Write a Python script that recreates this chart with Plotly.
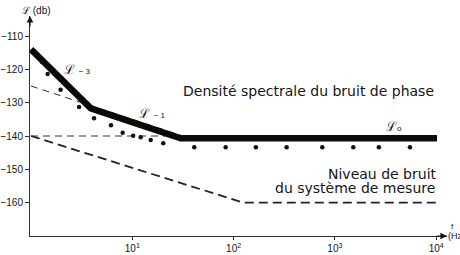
import plotly.graph_objects as go
import numpy as np

# ---- data ----
phase_f = [1.0, 3.9, 30.0, 10200.0]            # thick asymptotic phase-noise curve
phase_db = [-114.0, -131.7, -140.7, -140.7]

meas_f = [1.28, 1.46, 1.96, 2.98, 4.19, 6.16, 8.04, 10.2, 12.1, 15.2,
          20.2, 40.9, 83.5, 166, 334, 751, 1520, 2720, 5510]
meas_db = [-117.7, -121.4, -126.1, -131.3, -134.7, -136.8, -139.0, -139.9, -140.4, -141.2,
           -142.2, -143.4, -143.4, -143.4, -143.4, -143.4, -143.4, -143.4, -143.4]

asym1_f = [1.0, 31.6]          # L^-1 asymptote (thin dashed)
asym1_db = [-125.0, -140.0]
asym0_f = [1.0, 31.6]          # L^0 extension (thin dashed)
asym0_db = [-140.0, -140.0]

sys_f = [1.0, 125.0, 10300.0]  # measurement system noise floor
sys_db = [-140.0, -160.0, -160.0]

y_ticks = [-110, -120, -130, -140, -150, -160]
x_ticks = [10, 100, 1000, 10000]
x_ticktext = ["10<sup>1</sup>", "10<sup>2</sup>", "10<sup>3</sup>", "10<sup>4</sup>"]

FONT = "Liberation Sans, Arial, sans-serif"
TFONT = "DejaVu Sans, sans-serif"
INK = "#151515"
LSYM = "ℒ"

fig = go.Figure()
fig.add_trace(go.Scatter(x=asym1_f, y=asym1_db, mode="lines",
                         line=dict(color="#333", width=1, dash="7px,5px"), hoverinfo="skip"))
fig.add_trace(go.Scatter(x=asym0_f, y=asym0_db, mode="lines",
                         line=dict(color="#333", width=1, dash="7px,5px"), hoverinfo="skip"))
fig.add_trace(go.Scatter(x=sys_f, y=sys_db, mode="lines",
                         line=dict(color="#222", width=1.8, dash="9px,5px"), hoverinfo="skip"))
fig.add_trace(go.Scatter(x=phase_f, y=phase_db, mode="lines",
                         line=dict(color="#0a0a0a", width=6.5), hoverinfo="skip"))
fig.add_trace(go.Scatter(x=meas_f, y=meas_db, mode="markers",
                         marker=dict(color="#111", size=4.5), hoverinfo="skip"))

ann = []
def txt(x, y, s, size=14, xanchor="left", yanchor="middle", xref="x", yref="y", family=FONT):
    ann.append(dict(x=x, y=y, xref=xref, yref=yref, text=s, showarrow=False,
                    xanchor=xanchor, yanchor=yanchor,
                    font=dict(family=family, size=size, color=INK)))

txt(np.log10(30.5), -126.5, "Densité spectrale du bruit de phase", size=14, family=TFONT)
txt(np.log10(10600), -151.5, "Niveau de bruit", size=14, xanchor="right", family=TFONT)
txt(np.log10(10300), -155.7, "du système de mesure", size=14, xanchor="right", family=TFONT)
txt(np.log10(2.0), -120.0, LSYM + " <span style='font-size:8px'>− 3</span>", size=13)
txt(np.log10(11.2), -133.1, LSYM + " <span style='font-size:8px'>− 1</span>", size=13)
txt(np.log10(3050), -137.0, LSYM + "<span style='font-size:8px'>o</span>", size=13)
txt(0.016, 1.025, LSYM + " (db)", size=10, xanchor="center", xref="paper", yref="paper")
txt(1.014, 0.041, "f", size=8, xanchor="center", xref="paper", yref="paper")
txt(0.998, 0.0, "(Hz", size=9, xref="paper", yref="paper")

# axis arrowheads
ann.append(dict(x=0, y=1.0, xref="paper", yref="paper", ax=0, ay=12,
                text="", showarrow=True, arrowhead=2, arrowsize=1.1, arrowwidth=1.2, arrowcolor=INK))
ann.append(dict(x=1.0, y=0, xref="paper", yref="paper", ax=-12, ay=0,
                text="", showarrow=True, arrowhead=2, arrowsize=1.1, arrowwidth=1.2, arrowcolor=INK))

fig.update_layout(
    width=460, height=255,
    margin=dict(l=30, r=13, t=16, b=19, autoexpand=False),
    paper_bgcolor="white", plot_bgcolor="white",
    showlegend=False,
    annotations=ann,
    xaxis=dict(type="log", range=[-0.01, 4.107], showgrid=False, zeroline=False, automargin=False,
               showline=True, linecolor="#333", linewidth=1,
               tickvals=x_ticks, ticktext=x_ticktext, ticks="outside", ticklen=3,
               tickcolor="#333", tickfont=dict(family=FONT, size=10, color=INK)),
    yaxis=dict(range=[-170, -104], showgrid=False, zeroline=False, automargin=False,
               showline=True, linecolor="#333", linewidth=1,
               tickvals=y_ticks, ticks="outside", ticklen=4, tickcolor="#333",
               tickfont=dict(family=FONT, size=10, color=INK)),
)

fig.write_html("out.html", config={"displayModeBar": False},
               post_script="document.body.style.margin='0';")
